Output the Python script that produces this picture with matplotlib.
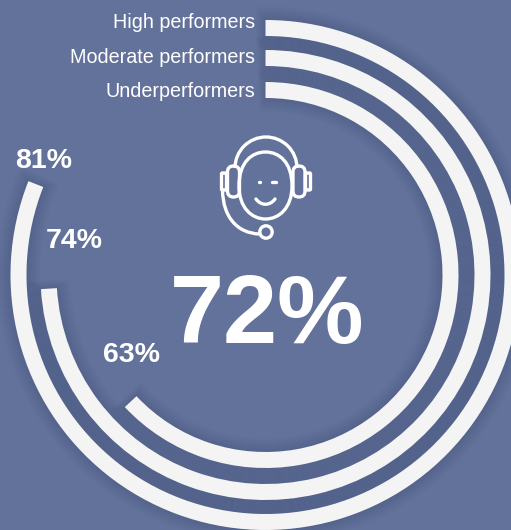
from matplotlib import pyplot as plt
from matplotlib.patches import Wedge, Circle, FancyBboxPatch, Arc, PathPatch
from matplotlib.path import Path

plt.rcParams["font.family"] = ["Liberation Sans", "DejaVu Sans"]

groups = ["High performers", "Moderate performers", "Underperformers"]
values = [81, 74, 63]
headline = "72%"

BG = "#62729A"
RING = "#F4F4F4"
WHITE = "#FFFFFF"

CX, CY = 265.5, 275
radii = [247, 217, 185]
ring_w = 16
name_baselines = [28, 63, 97]
value_pos = [(43.5, 168), (74.5, 248), (131.5, 362)]


def ring(value, radius, width, color, alpha=1.0, pad=0.0):
    # y axis is flipped, so growing angles run clockwise from the top
    start = -90 - pad
    end = -90 + 360 * value / 100 + pad
    return Wedge((CX, CY), radius + width / 2, start, end, width=width,
                 facecolor=color, edgecolor="none", alpha=alpha)


def draw_headset(ax):
    lw = 2.4
    style = dict(fill=False, edgecolor=WHITE, linewidth=lw)
    curve = [Path.MOVETO] + [Path.CURVE4] * 3
    # face
    face = [(239, 186), (239, 162), (252, 152), (265.5, 152),
            (279, 152), (292, 162), (292, 186),
            (292, 208), (279, 219), (265.5, 219),
            (252, 219), (239, 208), (239, 186)]
    ax.add_patch(PathPatch(Path(face, [Path.MOVETO] + [Path.CURVE4] * 12), **style))
    # headband
    ax.add_patch(Arc((266, 168), 62, 62, theta1=180, theta2=360, edgecolor=WHITE, linewidth=lw))
    # ear cups and their outer pads
    for x in (227.5, 293):
        ax.add_patch(FancyBboxPatch((x, 166), 12, 31,
                                    boxstyle="round,pad=0,rounding_size=6", **style))
    for x in (221.5, 305.5):
        ax.add_patch(FancyBboxPatch((x, 173), 5, 17,
                                    boxstyle="round,pad=0,rounding_size=1", **style))
    # mic wire and mic
    ax.add_patch(PathPatch(Path([(222.5, 190), (223, 218), (238, 233), (259, 234)], curve), **style))
    ax.add_patch(Circle((266, 232), 6.2, **style))
    # eyes and smile
    ax.plot([258.5, 260], [182, 182], color=WHITE, lw=lw, solid_capstyle="round")
    ax.plot([271.5, 275.5], [182, 182], color=WHITE, lw=lw, solid_capstyle="round")
    ax.add_patch(PathPatch(Path([(256, 199), (261, 206), (270, 206), (275, 199)], curve),
                           capstyle="round", **style))


fig = plt.figure(figsize=(5.11, 5.30), dpi=100, facecolor=BG)
ax = fig.add_axes([0, 0, 1, 1])
ax.set_xlim(0, 511)
ax.set_ylim(530, 0)
ax.axis("off")

# soft shadow built up from wider translucent rings
for val, r in zip(values, radii):
    for grow in range(2, 30, 2):
        ax.add_patch(ring(val, r, ring_w + grow, "#2A3557", alpha=0.007, pad=grow * 0.08))

for val, r in zip(values, radii):
    ax.add_patch(ring(val, r, ring_w, RING))

for name, y in zip(groups, name_baselines):
    ax.text(255.5, y, name, color=WHITE, fontsize=14.2, ha="right", va="baseline")

for val, (x, y) in zip(values, value_pos):
    ax.text(x, y, f"{val}%", color=WHITE, fontsize=20.5, fontweight="bold", ha="center", va="baseline")

ax.text(267, 343, headline, color=WHITE, fontsize=70, fontweight="bold", ha="center", va="baseline")

draw_headset(ax)

fig.savefig("out.png", dpi=100, facecolor=BG)
